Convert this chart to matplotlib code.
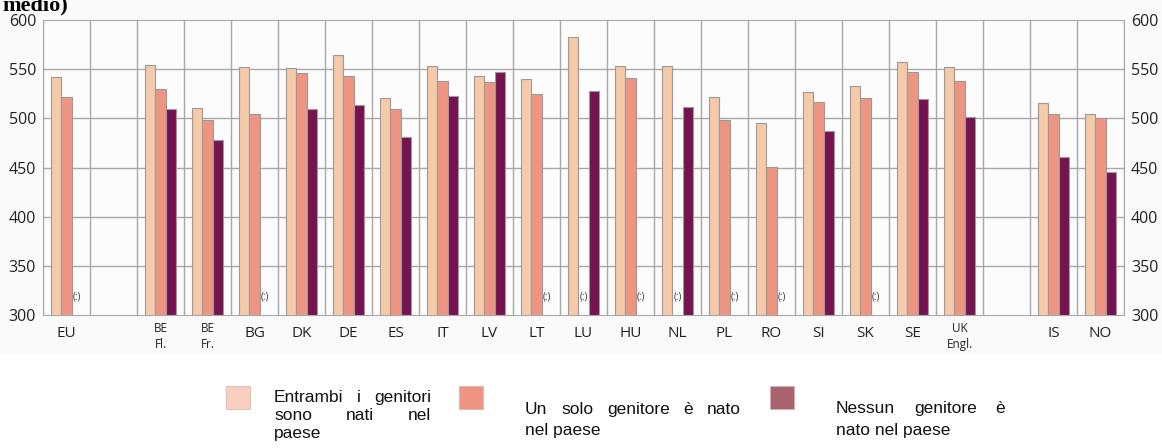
import matplotlib
matplotlib.use('Agg')
import matplotlib.pyplot as plt
from matplotlib.patches import Rectangle

# dati (punteggio medio) - None = dato non disponibile (:)
paesi = ['EU', '', 'BE\nFl.', 'BE\nFr.', 'BG', 'DK', 'DE', 'ES', 'IT', 'LV', 'LT', 'LU',
         'HU', 'NL', 'PL', 'RO', 'SI', 'SK', 'SE', 'UK\nEngl.', '', 'IS', 'NO']
entrambi = [542, None, 554, 511, 552, 551, 564, 521, 553, 543, 540, 583,
            553, 553, 522, 495, 527, 533, 557, 552, None, 516, 504]
uno_solo = [522, None, 530, 498, 504, 546, 543, 509, 538, 537, 525, None,
            541, None, 498, 451, 517, 521, 547, 538, None, 504, 500]
nessuno = [None, None, 510, 478, None, 510, 514, 481, 523, 547, None, 528,
           None, 512, None, None, 487, None, 520, 501, None, 461, 445]
serie = [entrambi, uno_solo, nessuno]
vuoti = [1, 20]  # colonne vuote (separatori)

col_barre = ['#F6C9A8', '#EE9582', '#751351']
col_leg = ['#F9CFC0', '#EF9483', '#A8636F']

W, H = 1162, 448
fig = plt.figure(figsize=(W / 100, H / 100), dpi=100)
fig.patches.append(Rectangle((0, 1 - 355 / H), 1, 355 / H, transform=fig.transFigure,
                             facecolor='#FAFAFA', edgecolor='none', zorder=-10))

ax = fig.add_axes([43 / W, 1 - 315 / H, (1124 - 43) / W, 295 / H])
ax.set_facecolor('#FCFCFC')
ax.set_xlim(0, len(paesi))
ax.set_ylim(300, 600)

bw = 0.225
for k, vals in enumerate(serie):
    off = (k - 1) * bw
    for i, v in enumerate(vals):
        if i in vuoti:
            continue
        x = i + 0.5 + off
        if v is None:
            ax.text(x, 318, '(:)', ha='center', va='center', fontsize=7,
                    family='Open Sans', color='#333333', zorder=3)
        else:
            ax.bar(x, v - 300, bottom=300, width=bw, color=col_barre[k],
                   edgecolor='#9A9A9A', linewidth=0.8, zorder=3)

for x in range(len(paesi) + 1):
    ax.axvline(x, color='#A8A8A8', lw=1, zorder=1)
for y in range(350, 600, 50):
    ax.axhline(y, color='#A8A8A8', lw=1, zorder=1)
for s in ax.spines.values():
    s.set_color('#A8A8A8')

ax.set_yticks(range(300, 601, 50))
ax.tick_params(axis='y', length=0, pad=5, labelsize=11.5, labelright=True, right=False)
ax.set_xticks([i + 0.5 for i in range(len(paesi))])
ax.set_xticklabels(paesi)
ax.tick_params(axis='x', length=0, pad=5)
for lab in ax.get_xticklabels() + ax.get_yticklabels():
    lab.set_family('Open Sans')
    lab.set_color('#222222')
for lab in ax.get_xticklabels():
    if '\n' in lab.get_text():
        lab.set_fontsize(8.5)
        lab.set_linespacing(1.3)
    else:
        lab.set_fontsize(11)
        lab.set_y(-0.015)

# titolo tagliato in alto
fig.text(2 / W, 1 - 10 / H, 'medio)', family='Liberation Serif', weight='bold',
         fontsize=16, va='baseline', ha='left')

# legenda manuale
renderer = fig.canvas.get_renderer()


def riga_giustificata(parole, x0, x1, yc):
    objs = [fig.text(0, 1 - yc / H, p, family='Liberation Sans', fontsize=12.5,
                     va='center', ha='left', color='#111111') for p in parole]
    larg = [o.get_window_extent(renderer).width for o in objs]
    gap = (x1 - x0 - sum(larg)) / max(len(parole) - 1, 1)
    x = x0
    for o, w in zip(objs, larg):
        o.set_x(x / W)
        x += w + gap


quad_x = [226, 459, 770]
for k in range(3):
    fig.patches.append(Rectangle((quad_x[k] / W, 1 - 409 / H), 24 / W, 23 / H,
                                 transform=fig.transFigure, facecolor=col_leg[k],
                                 edgecolor='#D8B0A8', linewidth=0.5))

riga_giustificata(['Entrambi', 'i', 'genitori'], 274, 431, 397)
riga_giustificata(['sono', 'nati', 'nel'], 274, 431, 415)
riga_giustificata(['paese'], 274, 431, 433)
riga_giustificata(['Un', 'solo', 'genitore', 'è', 'nato'], 525, 741, 409)
riga_giustificata(['nel paese'], 525, 741, 430)
riga_giustificata(['Nessun', 'genitore', 'è'], 836, 1005, 408)
riga_giustificata(['nato nel paese'], 836, 1005, 430)

fig.savefig('out.png', dpi=100)
